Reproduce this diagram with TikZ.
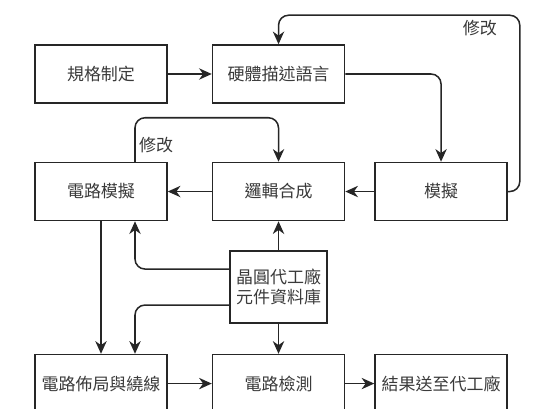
\documentclass[tikz,border=0pt]{standalone}
\usepackage{fontspec}
\setmainfont{Noto Sans CJK TC}
\usepackage{tikz}
\usetikzlibrary{arrows.meta,positioning,calc}
\usepackage{xcolor}
\definecolor{flowink}{HTML}{262626}
\definecolor{flowtext}{HTML}{3A3A3A}
\tikzset{
  stagebox/.style={
    draw=flowink,
    line width=1.3pt,
    minimum width=3.96cm,
    minimum height=1.74cm,
    inner sep=2pt,
    align=center,
    text=flowtext,
    font=\fontsize{14.5}{17}\selectfont
  },
  librarybox/.style={
    stagebox,
    minimum width=2.91cm,
    minimum height=2.16cm
  },
  notelabel/.style={
    inner sep=0pt,
    text=flowtext,
    font=\fontsize{14.5}{17}\selectfont
  },
  arrow/.style={
    -{Stealth[length=3.8mm,width=3.4mm,inset=1.2mm]},
    line width=1.3pt,
    draw=flowink,
    rounded corners=0.3cm
  }
}

\begin{document}
\begin{tikzpicture}[node distance=1.74cm and 1.32cm]
\useasboundingbox (-3.03,2.22) rectangle (13.59,-10.05);
\node[stagebox] (spec) {規格制定};
\node[stagebox, right=of spec] (hdl) {硬體描述語言};
\node[stagebox, below=of hdl] (syn) {邏輯合成};
\node[stagebox, left=of syn] (csim) {電路模擬};
\node[stagebox, right=0.87cm of syn] (sim) {模擬};
\node[librarybox, below=0.87cm of syn] (lib) {晶圓代工廠\\元件資料庫};
\node[stagebox, below=0.9cm of lib] (chk) {電路檢測};
\node[stagebox, left=of chk] (layout) {電路佈局與繞線};
\node[stagebox, right=0.87cm of chk] (fab) {結果送至代工廠};

% corners of the two feedback loops
\coordinate (upR) at ($(sim.east |- hdl.north)+(0.36,0.87)$);
\coordinate (tapL) at ($(csim.north)+(1.02,0)$);
\coordinate (upL) at ($(tapL)+(0,1.32)$);

\draw[arrow] (spec) -- (hdl);
\draw[arrow] (hdl.east) -| (sim.north);
\draw[arrow] (sim.east) -| (upR) -| (hdl.north);
\draw[arrow] (sim) -- (syn);
\draw[arrow] (syn) -- (csim);
\draw[arrow] (tapL) -- (upL) -| (syn.north);
\draw[arrow] (csim) -- (layout);
\draw[arrow] ($(lib.west)+(0,0.54)$) -| (csim.south -| tapL);
\draw[arrow] ($(lib.west)+(0,-0.54)$) -| (layout.north -| tapL);
\draw[arrow] (lib) -- (syn);
\draw[arrow] (lib) -- (chk);
\draw[arrow] (layout) -- (chk);
\draw[arrow] (chk) -- (fab);

\node[notelabel, below left=0.15cm and 0.68cm of upR] (fixtop) {修改};
\node[notelabel, above right=0.27cm and 0.12cm of tapL] (fixlow) {修改};
\end{tikzpicture}
\end{document}
